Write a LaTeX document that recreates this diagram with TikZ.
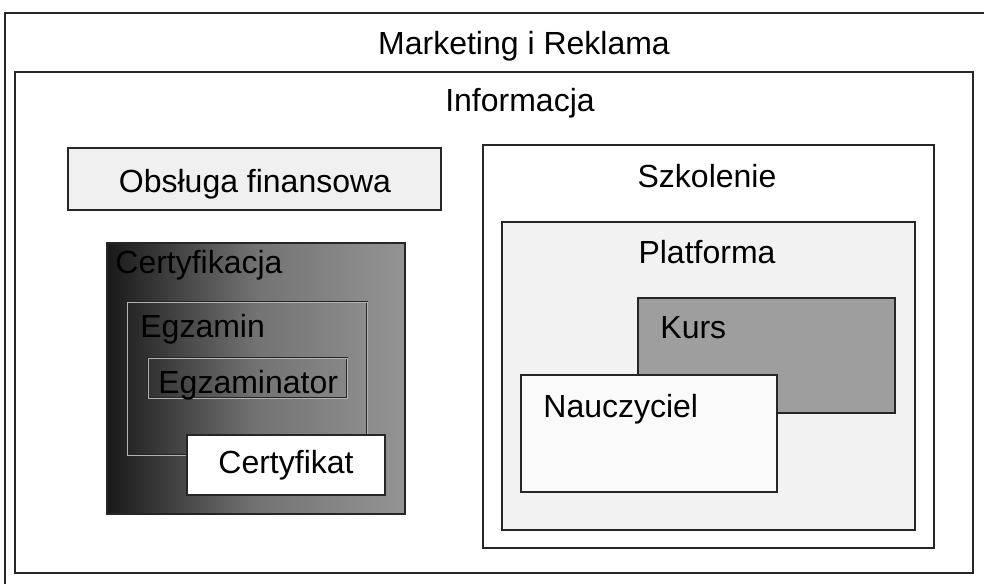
\documentclass[tikz,border=0pt]{standalone}
\usepackage{fontspec}
\setmainfont{Liberation Sans}
\begin{document}
\begin{tikzpicture}[x=0.5pt, y=-0.5pt,
    frame/.style={draw=black!85, line width=0.8pt},
    inframe/.style={draw=black!85, line width=0.4pt, double=black!30, double distance=0.5pt},
    lbl/.style={anchor=base, inner sep=0pt, font=\fontsize{16}{19}\selectfont},
    lblw/.style={lbl, anchor=base west}
]
\useasboundingbox (0,0) rectangle (984,583);
\clip (0,0) rectangle (984,583);
% outer areas
\draw[frame, line width=1.1pt] (5,13) rectangle (995,595);
\node[lbl] (marketing) at (524,55) {Marketing i Reklama};
\draw[frame] (15,72) rectangle (973,573);
\node[lbl] (informacja) at (520,112) {Informacja};
% left column
\draw[frame, fill=black!6] (68,148) rectangle (441,210);
\node[lbl] (finanse) at (255,192) {Obsługa finansowa};
\draw[frame, left color=black!90, right color=black!42, middle color=black!55] (107,243) rectangle (405,514);
\node[lblw] (certyfikacja) at (115,273) {Certyfikacja};
\draw[inframe] (127,302) rectangle (367,455);
\node[lblw] (egzamin) at (140,337) {Egzamin};
\draw[inframe] (148,358) rectangle (347,398);
\node[lblw] (egzaminator) at (158,393) {Egzaminator};
\draw[frame, fill=white] (187,435) rectangle (385,495);
\node[lbl] (certyfikat) at (286,473) {Certyfikat};
% right column
\draw[frame, fill=white] (483,145) rectangle (934,548);
\node[lbl] (szkolenie) at (707,187) {Szkolenie};
\draw[frame, fill=black!5] (502,222) rectangle (915,530);
\node[lbl] (platforma) at (707,263) {Platforma};
\draw[frame, fill=black!38] (638,298) rectangle (895,413);
\node[lblw] (kurs) at (660,338) {Kurs};
\draw[frame, fill=black!2] (521,375) rectangle (777,492);
\node[lblw] (nauczyciel) at (543,417) {Nauczyciel};
\end{tikzpicture}
\end{document}
